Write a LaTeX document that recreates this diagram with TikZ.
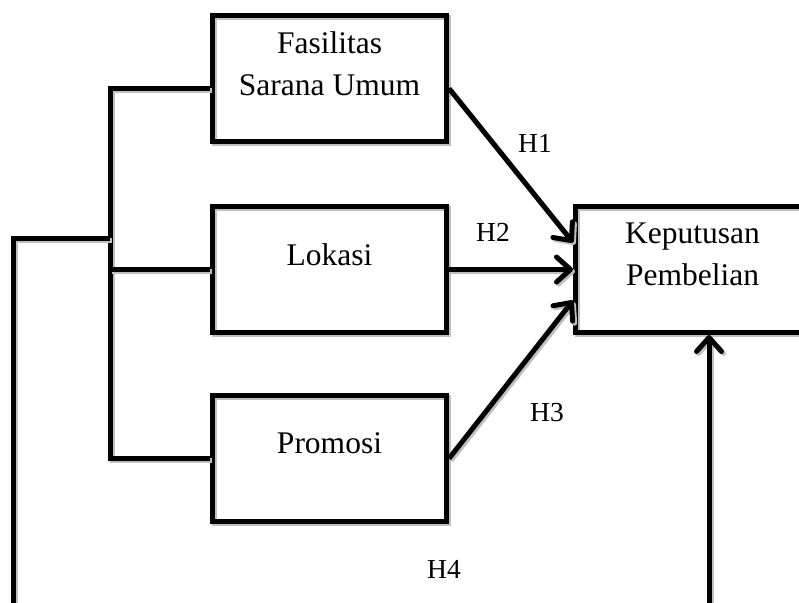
\documentclass[tikz,border=0pt]{standalone}
\usepackage{fontspec}
\setmainfont{Liberation Serif}
\usetikzlibrary{positioning}
\usetikzlibrary{calc}
\usetikzlibrary{arrows.meta}

\tikzset{
	shade line/.style={preaction={draw=gray!50, line width=5pt, transform canvas={shift={(2pt,-2pt)}}}},
	box/.style={draw, line width=5pt, minimum width=234pt, minimum height=126pt, shade line},
	boxtext/.style={align=center, font=\fontsize{31.5}{42}\selectfont},
	hyp/.style={font=\fontsize{27.5}{32}\selectfont},
	link/.style={line width=5pt, shade line},
	arr/.style={link, -{Straight Barb[length=14pt,width=25pt,round]}}
}

\begin{document}
\begin{tikzpicture}[x=1pt,y=-1pt]
		\path[use as bounding box, clip] (0,0) rectangle (799,602);
		\node[box] (fasilitas) at (329.5,78.5) {};
		\node[box, below=60pt of fasilitas] (lokasi) {};
		\node[box, below=58pt of lokasi] (promosi) {};
		\node[box, right=124pt of lokasi] (keputusan) {};
		\node[boxtext] (fasilitastext) at ([yshift=15pt]fasilitas.center) {Fasilitas\\Sarana Umum};
		\node[boxtext] (lokasitext) at ([yshift=15pt]lokasi.center) {Lokasi};
		\node[boxtext] (promositext) at ([yshift=15pt]promosi.center) {Promosi};
		\node[boxtext] (keputusantext) at ([yshift=15pt]keputusan.center) {Keputusan\\Pembelian};
		\draw[link] ([yshift=-10pt]fasilitas.west) -- ++(-100,0) |- (promosi.west);
		\draw[link] (lokasi.west) -- ++(-100,0);
		\coordinate (split) at (110,238);
		\coordinate (corner) at (13,650);
		\draw[arr] (split) -| (corner) -| ([xshift=16.5pt]keputusan.south);
		\draw[arr] ([yshift=-10pt]fasilitas.east) -- ([yshift=27pt]keputusan.west);
		\draw[arr] (lokasi.east) -- (keputusan.west);
		\draw[arr] (promosi.east) -- ([yshift=-31pt]keputusan.west);
		\node[hyp] (h1) at (535,143) {H1};
		\node[hyp] (h2) at (493,232) {H2};
		\node[hyp] (h3) at (547,413) {H3};
		\node[hyp] (h4) at (444,569) {H4};
	\end{tikzpicture}
\end{document}
